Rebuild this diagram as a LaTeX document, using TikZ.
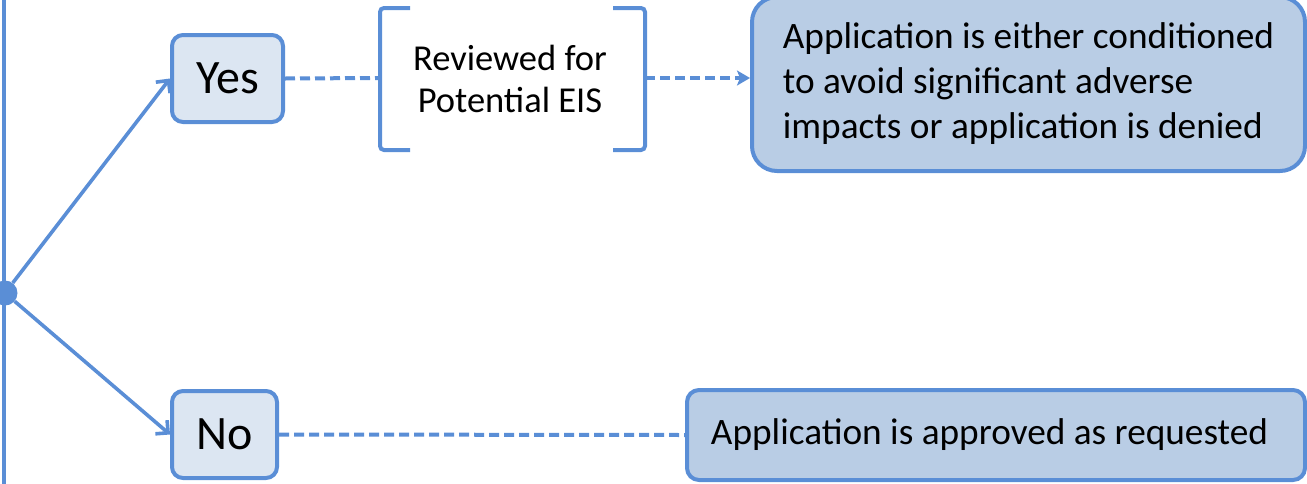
\documentclass[tikz,border=0pt]{standalone}
\usepackage{fontspec}
\setmainfont{Carlito}
\usetikzlibrary{arrows.meta}
\definecolor{bord}{HTML}{5A8ED6}
\definecolor{lightfill}{HTML}{DCE6F2}
\definecolor{darkfill}{HTML}{B9CDE5}
\tikzset{
  choice/.style={draw=bord, line width=4pt, fill=lightfill, rounded corners=11pt, inner sep=0pt, font=\fontsize{48}{52}\selectfont},
  result/.style={draw=bord, line width=4pt, fill=darkfill, inner sep=0pt, font=\fontsize{37.3}{45}\selectfont},
  solidarrow/.style={draw=bord, line width=3.6pt, -{Straight Barb[length=9pt,width=18pt,line width=3.6pt]}},
  dashline/.style={draw=bord, line width=4pt, dash pattern=on 10pt off 5pt},
  bracketline/.style={draw=bord, line width=4pt, rounded corners=4pt}
}
\begin{document}
\begin{tikzpicture}[x=1pt,y=-1pt]
\useasboundingbox (0,0) rectangle (1307,483);
\draw[draw=bord, line width=4pt] (4,-5) -- (4,490);
\node[circle, fill=bord, minimum size=25pt, inner sep=0pt] (dot) at (5,293) {};
\node[choice, minimum width=111pt, minimum height=87pt] (yes) at (227.5,78.5) {Yes};
\node[choice, minimum width=105pt, minimum height=87pt] (no) at (224.5,434.5) {No};
\coordinate (bl) at (380,78);
\coordinate (br) at (645,78);
\node[font=\fontsize{36.5}{42}\selectfont, align=center] (rev) at (510,79) {Reviewed for\\Potential EIS};
\draw[bracketline] (410,8) -- (380,8) -- (380,150) -- (410,150);
\draw[bracketline] (613,8) -- (645,8) -- (645,150) -- (613,150);
\node[result, rounded corners=25pt, minimum width=553pt, minimum height=174pt, align=left] (big) at (1028.5,84) {Application is either conditioned\\to avoid significant adverse\\impacts or application is denied};
\node[result, rounded corners=12pt, minimum width=618pt, minimum height=90pt] (small) at (996,435) {Application is approved as requested\hspace*{13pt}};
\draw[solidarrow] (dot) -- (yes.west);
\draw[solidarrow] (dot) -- (no.west);
\draw[dashline] (yes.east) -- (bl);
\draw[dashline, -{Stealth[length=13pt,width=15pt,inset=3pt]}] (br) -- (br -| big.west);
\draw[dashline] (no.east) -- (small.west);
\end{tikzpicture}
\end{document}
